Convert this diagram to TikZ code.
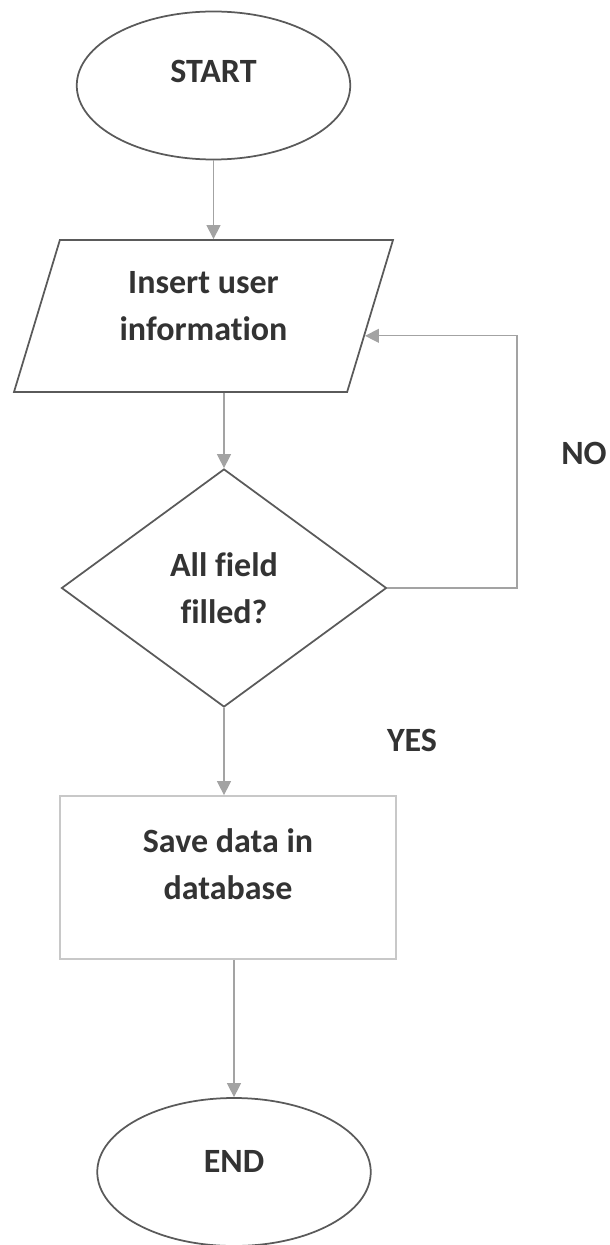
\documentclass[tikz,border=0pt]{standalone}
\usepackage{fontspec}
\setmainfont{Carlito}[Ligatures = {NoCommon, NoDiscretionary, NoRare}]
\usetikzlibrary{shapes.geometric, arrows.meta}

\definecolor{inkgray}{HTML}{333333}
\definecolor{outlinegray}{HTML}{5A5A5A}
\definecolor{boxgray}{HTML}{C8C8C8}
\definecolor{arrowgray}{HTML}{A3A3A3}

\begin{document}
\begin{tikzpicture}[
  x = 0.4pt, y = -0.4pt,
  line width = 0.7pt,
  >= {Triangle[length = 5.6pt, width = 5.6pt]},
  every node/.style = {font = \bfseries\fontsize{13.6}{18.8}\selectfont,
    text = inkgray, align = center},
  terminal/.style = {ellipse, draw = outlinegray, inner sep = 0pt,
    minimum width = 109.4pt, minimum height = 59.2pt},
  inout/.style = {trapezium, draw = outlinegray, inner sep = 0pt,
    trapezium left angle = 63, trapezium right angle = 117,
    trapezium stretches body, minimum width = 151.6pt, minimum height = 60.8pt},
  decision/.style = {diamond, draw = outlinegray, inner sep = 0pt,
    minimum width = 130pt, minimum height = 95.2pt},
  process/.style = {rectangle, draw = boxgray, inner sep = 0pt,
    minimum width = 134.4pt, minimum height = 65.2pt},
  flow/.style = {draw = arrowgray, line width = 0.5pt},
  ]

  \useasboundingbox (0, 0) rectangle (609, 1245);

  \node at (213.5, 85.5)
  [terminal, name = Start, text height = 8.8pt, text depth = 10.8pt] {START};

  \node at (203.5, 316)
  [inout, name = UserInfo, text depth = 8.4pt] {Insert user\\information};

  \node at (224, 588)
  [decision, name = Filled] {All field\\filled?};

  \node at (228, 877.5)
  [process, name = SaveData, text depth = 10.4pt] {Save data in\\database};

  \node at (234, 1172)
  [terminal, name = End, text height = 8.8pt, text depth = 8.8pt] {END};

  \node at (584, 453) [name = NoLabel] {NO};

  \node at (412, 740) [name = YesLabel] {YES};

  \coordinate (LoopLine) at (517, 0);

  \draw [flow, ->] (Start) to (Start |- UserInfo.north);

  \draw [flow, ->] (Filled.north |- UserInfo.south) to (Filled.north);

  \draw [flow, ->] (Filled.south) to (Filled.south |- SaveData.north);

  \draw [flow, ->] (End.north |- SaveData.south) to (End.north);

  \draw [flow, ->] (Filled.east) -- (Filled.east -| LoopLine) |- (UserInfo.-7);

\end{tikzpicture}
\end{document}
